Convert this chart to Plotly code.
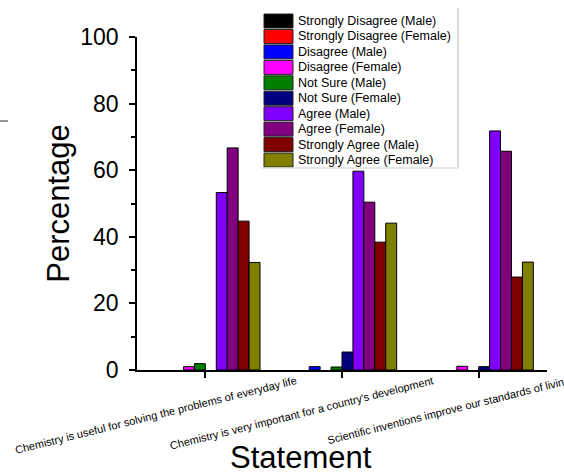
import plotly.graph_objects as go

categories = [
    "Chemistry is useful for solving the problems of everyday life",
    "Chemistry is very important for a country's development",
    "Scientific inventions improve our standards of living",
]
series_names = [
    "Strongly Disagree (Male)", "Strongly Disagree (Female)",
    "Disagree (Male)", "Disagree (Female)",
    "Not Sure (Male)", "Not Sure (Female)",
    "Agree (Male)", "Agree (Female)",
    "Strongly Agree (Male)", "Strongly Agree (Female)",
]
strongly_disagree_male = [0, 0, 0]
strongly_disagree_female = [0, 0, 0]
disagree_male = [0, 1.0, 0]
disagree_female = [1.0, 0, 1.1]
not_sure_male = [1.9, 0.9, 0]
not_sure_female = [0, 5.4, 1.0]
agree_male = [53.3, 59.7, 71.8]
agree_female = [66.7, 50.4, 65.7]
strongly_agree_male = [44.7, 38.4, 27.9]
strongly_agree_female = [32.3, 44.1, 32.4]

series_values = [
    strongly_disagree_male, strongly_disagree_female,
    disagree_male, disagree_female,
    not_sure_male, not_sure_female,
    agree_male, agree_female,
    strongly_agree_male, strongly_agree_female,
]
colors = ["#000000", "#FF0000", "#0000FF", "#FF00FF", "#008000",
          "#000080", "#8000FF", "#800080", "#800000", "#808000"]

FONT = "Arial, Liberation Sans, sans-serif"
W, H = 564, 475
L, R, T, B = 137, 17, 37, 105
PW, PH = W - L - R, H - T - B


def px_x(px):
    return (px - L) / PW


def px_y(py):
    return (H - B - py) / PH


fig = go.Figure()
for name, vals, col in zip(series_names, series_values, colors):
    fig.add_trace(go.Bar(
        name=name, x=categories, y=vals,
        marker=dict(color=col,
                    line=dict(color="#000000", width=[0 if v == 0 else 1 for v in vals])),
        showlegend=False,
    ))

shapes = []
annotations = []

# legend (compact, drawn as shapes + text)
leg_top = 21
leg_step = 15.45
for i, (name, col) in enumerate(zip(series_names, colors)):
    cy = leg_top + i * leg_step
    shapes.append(dict(type="rect", xref="paper", yref="paper",
                       x0=px_x(264), x1=px_x(293), y0=px_y(cy - 7), y1=px_y(cy + 7),
                       fillcolor=col, line=dict(color="#222222", width=1)))
    annotations.append(dict(text=name, xref="paper", yref="paper",
                            x=px_x(296), y=px_y(cy), xanchor="left", yanchor="middle",
                            showarrow=False, font=dict(family=FONT, size=12.5, color="#000000")))
shapes.append(dict(type="line", xref="paper", yref="paper",
                   x0=px_x(458), x1=px_x(458), y0=px_y(8), y1=px_y(168),
                   line=dict(color="#cccccc", width=1.5)))
shapes.append(dict(type="line", xref="paper", yref="paper",
                   x0=px_x(262), x1=px_x(458), y0=px_y(168), y1=px_y(168),
                   line=dict(color="#dddddd", width=1.5)))
# small stray dash at left
shapes.append(dict(type="line", xref="paper", yref="paper",
                   x0=px_x(0), x1=px_x(8), y0=px_y(121), y1=px_y(121),
                   line=dict(color="#333333", width=1)))

# rotated category labels
for c in categories:
    annotations.append(dict(text=c, xref="x", yref="paper", x=c, y=0,
                            xanchor="right", yanchor="top", xshift=95, yshift=-2,
                            textangle=-14, showarrow=False,
                            font=dict(family=FONT, size=11, color="#000000")))
# x axis title
annotations.append(dict(text="Statement", xref="paper", yref="paper",
                        x=px_x(301), y=px_y(457), xanchor="center", yanchor="middle",
                        showarrow=False, font=dict(family=FONT, size=31, color="#000000")))

fig.update_layout(
    width=W, height=H,
    margin=dict(l=L, r=R, t=T, b=B, pad=0),
    paper_bgcolor="white", plot_bgcolor="white",
    barmode="group", bargap=0.2, bargroupgap=0,
    font=dict(family=FONT, color="#000000"),
    shapes=shapes, annotations=annotations,
)
fig.update_xaxes(
    type="category", range=[-0.5, 2.5],
    showline=True, linecolor="#000000", linewidth=1.5,
    ticks="outside", ticklen=6, tickwidth=1.5, tickcolor="#000000",
    showticklabels=False, showgrid=False, zeroline=False,
)
fig.update_yaxes(
    range=[0, 100], tickvals=[0, 20, 40, 60, 80, 100],
    showline=True, linecolor="#000000", linewidth=1.5,
    ticks="outside", ticklen=6, tickwidth=1.5, tickcolor="#000000",
    minor=dict(tickvals=[10, 30, 50, 70, 90], ticks="outside", ticklen=4,
               tickwidth=1.5, tickcolor="#000000"),
    tickfont=dict(family=FONT, size=23, color="#000000"),
    ticklabelstandoff=6,
    title=dict(text="Percentage", font=dict(family=FONT, size=31, color="#000000"), standoff=1),
    showgrid=False, zeroline=False,
)

fig.write_html("out.html")
